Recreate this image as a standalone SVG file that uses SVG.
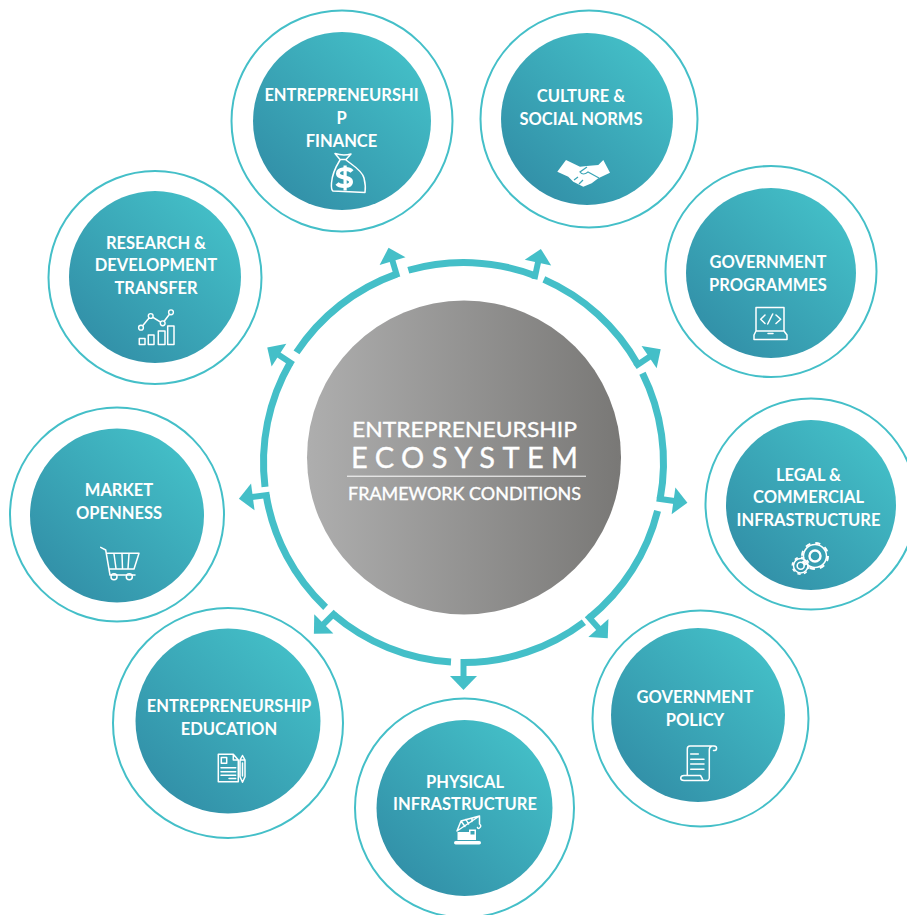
<svg xmlns="http://www.w3.org/2000/svg" width="907" height="915" viewBox="0 0 907 915">
<style>
.outer{fill:none;stroke:#44bfc8;stroke-width:2}
.inner{fill:url(#teal)}
.t{font-family:"Lato","Open Sans","Liberation Sans",sans-serif;font-weight:700;font-size:16.5px;fill:#fff;text-anchor:middle}
.c{font-family:"Lato","Open Sans","Liberation Sans",sans-serif;fill:#fff;stroke:#fff;stroke-width:.35;text-anchor:middle}
.i{fill:none;stroke:#fff;stroke-width:1.5;stroke-linejoin:round;stroke-linecap:round}
.w{fill:#fff;stroke:none}
</style>
<defs>
<linearGradient id="teal" x1="0.1" y1="0.95" x2="0.9" y2="0.1"><stop offset="0" stop-color="#318da6"/><stop offset="1" stop-color="#44c0c8"/></linearGradient>
<linearGradient id="grey" x1="0" y1="0" x2="1" y2="0"><stop offset="0" stop-color="#aeaeae"/><stop offset="1" stop-color="#797876"/></linearGradient>
<path id="arc" d="M343.1 302.8A200 200 0 0 1 463.5 262.5" fill="none" stroke="#44bfc8" stroke-width="7"/>
<g id="tip"><path d="M463.5 266V248" fill="none" stroke="#44bfc8" stroke-width="6"/><path d="M450 249H477L463.5 235Z" fill="#44bfc8"/></g>
</defs>
<rect width="907" height="915" fill="#fff"/>
<g id="connectors">
<g transform="rotate(-19.6 463.5 462.5)"><use href="#arc"/><use href="#tip" transform="rotate(3 463.5 262.5)"/></g>
<g transform="rotate(21 463.5 462.5)"><use href="#arc"/><use href="#tip" transform="rotate(-9 463.5 262.5)"/></g>
<g transform="rotate(60.7 463.5 462.5)"><use href="#arc"/><use href="#tip" transform="rotate(-4.7 463.5 262.5)"/></g>
<g transform="rotate(100.5 463.5 462.5)"><use href="#arc"/><use href="#tip" transform="rotate(-2.5 463.5 262.5)"/></g>
<g transform="rotate(141 463.5 462.5)"><use href="#arc"/><use href="#tip" transform="rotate(-3 463.5 262.5)"/></g>
<g transform="rotate(180 463.5 462.5)"><use href="#arc"/><use href="#tip"/></g>
<g transform="rotate(220.6 463.5 462.5)"><use href="#arc"/><use href="#tip" transform="rotate(4.4 463.5 262.5)"/></g>
<g transform="rotate(260.6 463.5 462.5)"><use href="#arc"/><use href="#tip" transform="rotate(2 463.5 262.5)"/></g>
<g transform="rotate(300 463.5 462.5)"><use href="#arc"/><use href="#tip" transform="rotate(3 463.5 262.5)"/></g>
</g>
<g id="center">
<circle cx="464" cy="457.5" r="157" fill="url(#grey)"/>
<text class="c" x="464.5" y="436.5" font-size="21.5" font-weight="400" textLength="225" lengthAdjust="spacingAndGlyphs">ENTREPRENEURSHIP</text>
<text class="c" x="464.5" y="467.5" font-size="29" font-weight="400" textLength="227" lengthAdjust="spacing">ECOSYSTEM</text>
<rect x="347" y="475.7" width="239" height="1" fill="#fff"/>
<text class="c" x="464.5" y="499.5" font-size="17.5" font-weight="400" textLength="233" lengthAdjust="spacingAndGlyphs">FRAMEWORK CONDITIONS</text>
</g>
<g id="node-finance">
<circle class="outer" cx="342" cy="121" r="110.5"/><circle class="inner" cx="342" cy="121" r="89"/>
<text class="t" x="341.5" y="100.5">ENTREPRENEURSHI</text><text class="t" x="341.5" y="123.5">P</text><text class="t" x="341.5" y="146.5">FINANCE</text>
<path class="i" d="M335 153.5Q343 156 351 154L346 159.5H340ZM340 160C335 168 332 175 331.5 183Q331 190 333 191L365 192.5Q366 186 364 178C362 170 352 165 346 160"/>
<path d="M352 171.5C349 168 338 168 338 173.5C338 179 351 176 351 182C351 187 340 187 337 183.5" fill="none" stroke="#fff" stroke-width="4"/>
<path class="w" d="M343.5 165.5h3.2v25h-3.2z"/>
</g>
<g id="node-culture">
<circle class="outer" cx="589" cy="119" r="108.5"/><circle class="inner" cx="587" cy="119" r="86"/>
<text class="t" x="581" y="101.5">CULTURE &amp;</text><text class="t" x="581" y="124.5">SOCIAL NORMS</text>
<path class="w" d="M557.3 171.7L566 160L580 166.7L586.7 166L598.3 165L603.3 160L610 172.7L598.3 178.3L591.7 183.3L583.3 186.7L573.3 181.7L568.3 176.7Z"/>
<path d="M587 167L580 172Q583 176 588 172L599 178M574 180L578 177M579 184L583 180" fill="none" stroke="#3ba5b6" stroke-width="1.2"/>
</g>
<g id="node-programmes">
<circle class="outer" cx="771" cy="271.5" r="105.5"/><circle class="inner" cx="771" cy="273" r="85"/>
<text class="t" x="768" y="267.5">GOVERNMENT</text><text class="t" x="768" y="290.5">PROGRAMMES</text>
<path class="i" d="M756 331V307.5H784V331M756 331L754 335V339.5H787V335L784 331ZM768 333.5H773M765 315L760.7 319.3L765 323.5M776 315L780.7 319.3L776 323.5M772.7 314L767.7 324"/>
</g>
<g id="node-legal">
<circle class="outer" cx="811" cy="504" r="105.5"/><circle class="inner" cx="811" cy="505" r="85"/>
<text class="t" x="808.5" y="480.5">LEGAL &amp;</text><text class="t" x="808.5" y="502.5">COMMERCIAL</text><text class="t" x="808.5" y="525.5">INFRASTRUCTURE</text>
<circle class="i" cx="815" cy="556" r="11.5"/><circle cx="815" cy="556" r="13" fill="none" stroke="#fff" stroke-width="2" stroke-dasharray="5.1 5.1"/><circle cx="815" cy="556" r="5.5" fill="none" stroke="#fff" stroke-width="2.4"/>
<circle class="i" cx="800.7" cy="565.7" r="7.2" stroke-width="1.2"/><circle cx="800.7" cy="565.7" r="8.4" fill="none" stroke="#fff" stroke-width="1.6" stroke-dasharray="3.3 3.3"/><circle cx="800.7" cy="565.7" r="3.5" fill="none" stroke="#fff" stroke-width="1.6"/>
</g>
<g id="node-policy">
<circle class="outer" cx="700.5" cy="718.5" r="108"/><circle class="inner" cx="698" cy="715" r="87"/>
<text class="t" x="695" y="702.5">GOVERNMENT</text><text class="t" x="695" y="725.5">POLICY</text>
<path class="i" d="M687.3 775V749Q687.3 746 690 746H714Q717 746 716.5 749Q716 751 713.5 750.5M712 746Q709.3 747 709.3 750V778Q709 781 706 780.5H684Q680.7 780.5 680.7 778Q681 775.5 684 775.5H700.5Q702 778 703 780.5M690.7 754H698.3M690.7 759.3H704M690.7 764H704M690.7 769.3H704"/>
</g>
<g id="node-physical">
<circle class="outer" cx="464.5" cy="808" r="109.5"/><circle class="inner" cx="464.5" cy="808" r="88"/>
<text class="t" x="465" y="787.5">PHYSICAL</text><text class="t" x="465" y="809.5">INFRASTRUCTURE</text>
<rect class="w" x="454" y="841" width="27" height="3.5" rx="1.7"/>
<path class="w" d="M457.5 832L469 832V829.5H476V840H457.5Z"/>
<rect x="470.5" y="831" width="4" height="3.5" fill="#3ba5b6"/>
<path class="i" stroke-width="1" d="M457 831L479.5 816L461 821ZM461 821L465 826.5M466 819.5L468.5 824M472 818L472 821.5M479.5 816V824M479.5 824Q482 826 479.5 828Q478 829 477.5 827.5"/>
</g>
<g id="node-education">
<circle class="outer" cx="228" cy="723" r="115"/><circle class="inner" cx="228" cy="721" r="92.5"/>
<text class="t" x="229" y="711.5">ENTREPRENEURSHIP</text><text class="t" x="229" y="734.5">EDUCATION</text>
<path class="i" stroke-width="1.2" d="M218.3 754.3H233.3L238.3 760V781.7H218.3ZM233.3 754.3V760H238.3M221.3 757.5H226.7V763.3H221.3ZM221 767.7H235.7M221 771.7H235.7M221 775.2H235.7M229 778.5H235.7M240 760H245V776.7L242.5 782.3L240 776.7ZM240 760L242.5 755.5L245 760M242.5 763V776"/>
</g>
<g id="node-market">
<circle class="outer" cx="117" cy="514.5" r="107"/><circle class="inner" cx="117" cy="515.5" r="87"/>
<text class="t" x="119" y="495.5">MARKET</text><text class="t" x="119" y="518.5">OPENNESS</text>
<path class="i" d="M100.7 547.3L105.7 550L110 575H135M107.3 553.3H139L134 569H110M114 554L116 568.5M122 554L122.5 568.5M129 554L128 568.5"/>
<circle class="i" cx="114" cy="576.7" r="3"/><circle class="i" cx="129.3" cy="576.7" r="3"/>
</g>
<g id="node-research">
<circle class="outer" cx="155" cy="277.5" r="106.5"/><circle class="inner" cx="155" cy="277" r="86"/>
<text class="t" x="156" y="248.5">RESEARCH &amp;</text><text class="t" x="156" y="270.5">DEVELOPMENT</text><text class="t" x="156" y="293.5">TRANSFER</text>
<path class="i" stroke-linejoin="miter" d="M139.3 344.5V338.5H145V344.5ZM148.3 344.5V335H154V344.5ZM158.3 344.5V331H165V344.5ZM167.7 344.5V326H174V344.5ZM141 327.7L150.7 316L162.7 323.3L171 312.3"/>
<circle cx="141" cy="327.7" r="2.4" fill="#3ba5b6" stroke="#fff" stroke-width="1.4"/><circle cx="150.7" cy="316" r="2.4" fill="#3ba5b6" stroke="#fff" stroke-width="1.4"/><circle cx="162.7" cy="323.3" r="2.4" fill="#3ba5b6" stroke="#fff" stroke-width="1.4"/><circle cx="171" cy="312.3" r="2.4" fill="#3ba5b6" stroke="#fff" stroke-width="1.4"/>
</g>
</svg>
